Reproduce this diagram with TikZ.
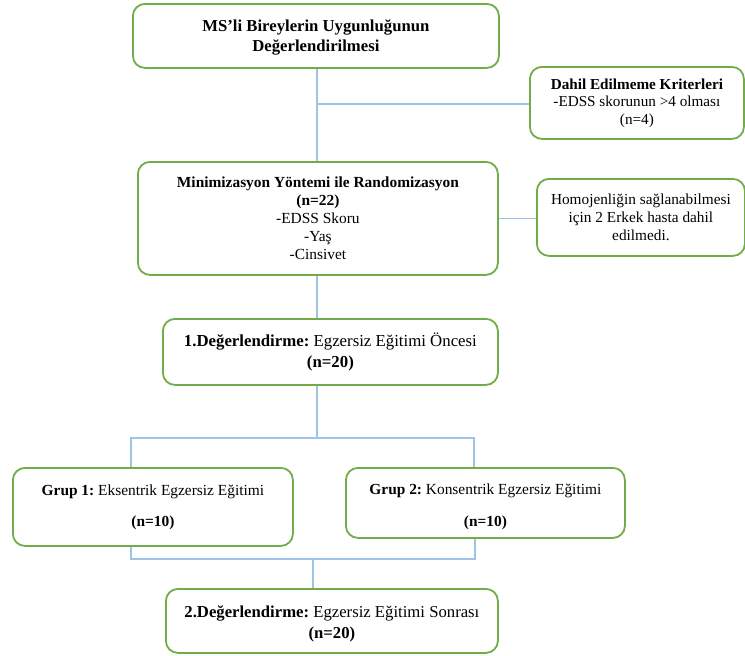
\documentclass[tikz,border=0pt]{standalone}
\usepackage{fontspec}
\setmainfont{Liberation Serif}
\frenchspacing
\definecolor{boxgreen}{HTML}{70AD47}
\definecolor{lineblue}{HTML}{9DC3E6}
\begin{document}
\begin{tikzpicture}[x=1pt,y=1pt,
  box/.style={draw=boxgreen, line width=1.8pt, rounded corners=12pt, anchor=north west, align=center, inner sep=0pt},
  conn/.style={draw=lineblue, line width=1.3pt}]
\useasboundingbox (0,0) rectangle (745,-656);
\node[box, minimum width=366, minimum height=64, font=\fontsize{16.7}{20}\selectfont\bfseries] (b1) at (132,-3)
  {\rule{0pt}{15pt}MS’li Bireylerin Uygunluğunun\\Değerlendirilmesi};
\node[box, minimum width=214, minimum height=72, font=\fontsize{15.2}{17.5}\selectfont] (dahil) at (529,-66)
  {\textbf{Dahil Edilmeme Kriterleri}\\-EDSS skorunun >4 olması\\(n=4)};
\node[box, minimum width=360, minimum height=113, font=\fontsize{15.4}{18}\selectfont] (b2) at (137,-161)
  {\textbf{Minimizasyon Yöntemi ile Randomizasyon}\\\textbf{(n=22)}\\-EDSS Skoru\\-Yaş\\-Cinsivet};
\node[box, minimum width=208, minimum height=77, font=\fontsize{15.3}{18.3}\selectfont] (homo) at (536,-178)
  {Homojenliğin sağlanabilmesi\\için 2 Erkek hasta dahil\\edilmedi.};
\node[box, minimum width=335, minimum height=66, font=\fontsize{16.8}{21}\selectfont] (b3) at (162,-318)
  {\textbf{1.Değerlendirme:} Egzersiz Eğitimi Öncesi\\\textbf{(n=20)}};
\node[box, minimum width=280, minimum height=78, font=\fontsize{15.4}{16}\selectfont] (g1) at (12,-467)
  {\textbf{Grup 1:} Eksentrik Egzersiz Eğitimi\\[15pt]\textbf{(n=10)}};
\node[box, minimum width=279, minimum height=70, font=\fontsize{15.4}{16}\selectfont] (g2) at (345,-467)
  {\rule{0pt}{19pt}\textbf{Grup 2:} Konsentrik Egzersiz Eğitimi\\[16pt]\textbf{(n=10)}};
\node[box, minimum width=332, minimum height=64, font=\fontsize{16.7}{21.5}\selectfont] (b4) at (165,-588)
  {\rule{0pt}{18pt}\textbf{2.Değerlendirme:} Egzersiz Eğitimi Sonrası\\\textbf{(n=20)}};
\coordinate (t) at (317,-104);
\coordinate (s) at (317,-438);
\coordinate (sl) at (131,-438);
\coordinate (sr) at (474,-438);
\coordinate (ml) at (131,-559);
\coordinate (mr) at (475,-559);
\coordinate (mm) at (313,-559);
\draw[conn] (t |- b1.south) -- (t |- b2.north);
\draw[conn] (t) -- (t -| dahil.west);
\draw[conn] (b2.east) -- (b2.east -| homo.west);
\draw[conn] (t |- b2.south) -- (t |- b3.north);
\draw[conn] (s |- b3.south) -- (s);
\draw[conn] (sl |- g1.north) -- (sl) -- (sr) -- (sr |- g2.north);
\draw[conn] (ml |- g1.south) -- (ml) -- (mr) -- (mr |- g2.south);
\draw[conn] (mm) -- (mm |- b4.north);
\end{tikzpicture}
\end{document}
